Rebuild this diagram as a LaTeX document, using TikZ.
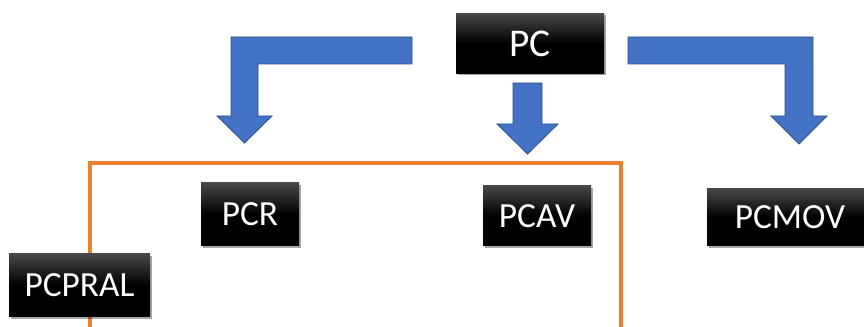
\documentclass[tikz,border=0pt]{standalone}
\usepackage{fontspec}
\setmainfont{Carlito}
\usetikzlibrary{shadows}
\definecolor{arrblue}{HTML}{4472C4}
\definecolor{arrline}{HTML}{2F528F}
\definecolor{boxorange}{HTML}{ED7D31}
\tikzset{
  blackbox/.style={rectangle, top color=black!72, bottom color=black, middle color=black,
    shading angle=0, text=white, inner sep=0pt, font=\fontsize{26.5}{30}\selectfont,
    drop shadow={shadow xshift=1.2pt, shadow yshift=-1.5pt, opacity=0.35, fill=black}},
  blockarrow/.style={fill=arrblue, draw=arrline, line width=0.6pt, line join=miter},
  group/.style={draw=boxorange, line width=2.4pt}
}
\begin{document}
\begin{tikzpicture}[x=0.75pt,y=-0.75pt]
\clip (0,0) rectangle (864,327);
\fill[white] (0,0) rectangle (864,327);
% orange group frame
\draw[group] (90,163) rectangle (621,345);
% block arrows
\draw[blockarrow] (412,37) -- (231,37) -- (231,116) -- (217,116) -- (244.5,143) -- (272,116) -- (258,116) -- (258,64) -- (412,64) -- cycle;
\draw[blockarrow] (513,83) -- (542,83) -- (542,124) -- (558,124) -- (527.5,154) -- (497,124) -- (513,124) -- cycle;
\draw[blockarrow] (628,37) -- (813,37) -- (813,116) -- (827,116) -- (799,144) -- (771,116) -- (785,116) -- (785,64) -- (628,64) -- cycle;
% nodes
\node[blackbox, minimum width=111pt, minimum height=45pt, font=\fontsize{29.5}{33}\selectfont] (pc) at (530,43.5) {PC};
\node[blackbox, minimum width=73.5pt, minimum height=47.25pt] (pcr) at (250,214.5) {PCR};
\node[blackbox, minimum width=81pt, minimum height=45pt] (pcav) at (537,216) {PCAV};
\node[blackbox, minimum width=124.5pt, minimum height=42.75pt] (pcmov) at (790,217.5) {PCMOV};
\node[blackbox, minimum width=105.75pt, minimum height=47.25pt] (pcpral) at (79.5,285.5) {PCPRAL};
\end{tikzpicture}
\end{document}
